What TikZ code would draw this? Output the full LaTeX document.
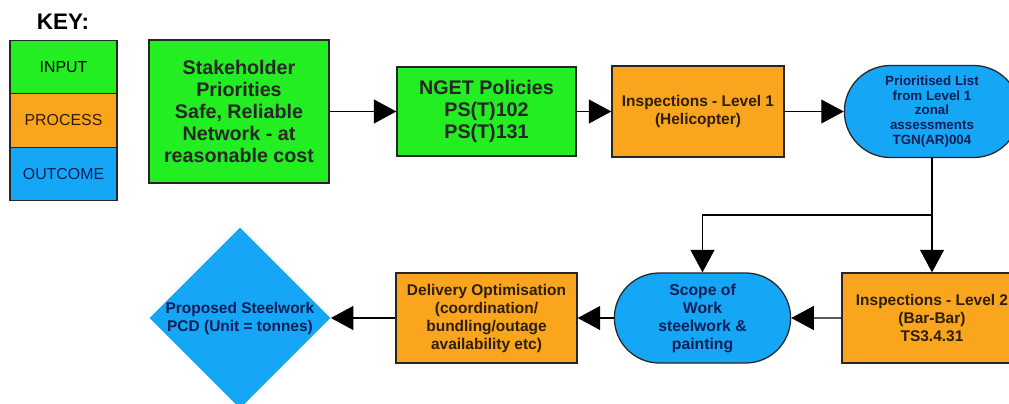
\documentclass[tikz,border=0pt]{standalone}
\usepackage{fontspec}
\setmainfont{Liberation Sans}
\usepackage{tikz}
\usetikzlibrary{positioning,calc,shapes.geometric,shapes.misc,arrows.meta}

\definecolor{ingreen}{RGB}{34,238,34}
\definecolor{procorange}{RGB}{250,165,30}
\definecolor{outblue}{RGB}{22,166,246}
\definecolor{outtext}{RGB}{12,30,85}
\definecolor{proctext}{RGB}{45,30,5}

\begin{document}
\begin{tikzpicture}[x=0.025cm,y=-0.025cm,
		box/.style={draw=black!85,line width=0.9pt,align=center,inner sep=1pt},
		inbox/.style={box,fill=ingreen,text=black!85},
		procbox/.style={box,fill=procorange,text=proctext},
		outbox/.style={box,fill=outblue,text=outtext},
		keybox/.style={draw=black!85,line width=0.9pt,minimum width=2.675cm,minimum height=1.34cm,font=\fontsize{11.3}{13}\selectfont},
		link/.style={line width=0.9pt,draw=black,-{Triangle[length=16pt,width=17pt]}}]
		\clip (0,0) rectangle (1009,403);
		\fill[white] (0,0) rectangle (1009,403);

		% key
		\node[font=\fontsize{16}{18}\selectfont\bfseries] (key) at (63,22) {KEY:};
		\node[keybox,fill=ingreen] (k1) at (63.5,67) {INPUT};
		\node[keybox,fill=procorange,text=proctext] (k2) at (63.5,120.5) {PROCESS};
		\node[keybox,fill=outblue,text=outtext] (k3) at (63.5,174) {OUTCOME};

		% top row
		\node[inbox,minimum width=4.5cm,minimum height=3.575cm,font=\fontsize{14}{15.6}\selectfont\bfseries] (1) at (239,111.5) {Stakeholder\\Priorities\\Safe, Reliable\\Network - at\\reasonable cost};
		\node[inbox,minimum width=4.475cm,minimum height=2.225cm,font=\fontsize{14}{15.6}\selectfont\bfseries] (2) at (486.5,111.5) {NGET Policies\\PS(T)102\\PS(T)131};
		\node[procbox,minimum width=4.3cm,minimum height=2.275cm,font=\fontsize{11}{13.5}\selectfont\bfseries] (3) at (698,111.5) {Inspections - Level 1\\(Helicopter)};
		\node[outbox,rounded rectangle,minimum width=4.45cm,minimum height=2.3cm,font=\fontsize{9.5}{10.6}\selectfont\bfseries] (4) at (932,111.5) {Prioritised List\\from Level 1\\zonal\\assessments\\TGN(AR)004};

		% bottom row
		\node[procbox,minimum width=4.5cm,minimum height=2.25cm,font=\fontsize{11}{12.8}\selectfont\bfseries] (5) at (932,318) {Inspections - Level 2\\(Bar-Bar)\\TS3.4.31};
		\node[outbox,rounded rectangle,minimum width=4.475cm,minimum height=2.25cm,font=\fontsize{11.2}{12.8}\selectfont\bfseries] (6) at (702.5,318) {Scope of\\Work\\steelwork \&\\painting};
		\node[procbox,minimum width=4.525cm,minimum height=2.25cm,font=\fontsize{11}{12.8}\selectfont\bfseries] (7) at (486.5,318) {Delivery Optimisation\\(coordination/\\bundling/outage\\availability etc)};
		\node[diamond,fill=outblue,text=outtext,minimum width=4.4cm,minimum height=4.4cm,inner sep=0pt,align=center,font=\fontsize{11}{12.8}\selectfont\bfseries] (8) at (240,318) {Proposed Steelwork\\PCD (Unit = tonnes)};

		% connectors
		\coordinate (split) at (932,215);
		\draw[link] (1) -- (2);
		\draw[link] (2) -- (3);
		\draw[link] (3) -- (4);
		\draw[link] (4.south) -- (5.north);
		\draw[link] (split) -| (6.north);
		\draw[link] (5) -- (6);
		\draw[link] (6) -- (7);
		\draw[link] (7) -- (8);
	\end{tikzpicture}
\end{document}
